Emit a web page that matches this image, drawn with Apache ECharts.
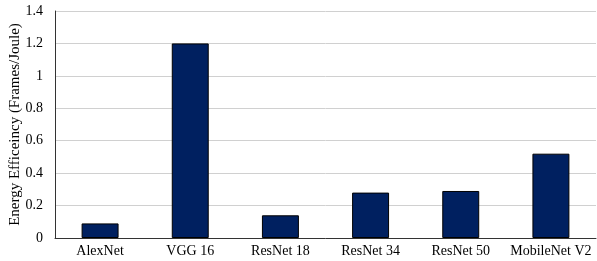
<!DOCTYPE html>
<html>
<head>
<meta charset="utf-8">
<script src="https://cdn.jsdelivr.net/npm/echarts@6/dist/echarts.min.js"></script>
<style>
  html, body { margin: 0; padding: 0; background: #fff; }
  #chart { width: 597px; height: 261px; }
</style>
</head>
<body>
<div id="chart"></div>
<script>
// 数据
const models = ["AlexNet", "VGG 16", "ResNet 18", "ResNet 34", "ResNet 50", "MobileNet V2"];
const efficiency = [0.09, 1.2, 0.14, 0.28, 0.29, 0.52];
const yTicks = [0, 0.2, 0.4, 0.6, 0.8, 1, 1.2, 1.4];

const myChart = echarts.init(document.getElementById("chart"));

const fontFamily = "'Liberation Serif', 'Times New Roman', serif";

const options = {
  animation: false,
  grid: { left: 55, right: 1, top: 11, bottom: 23, outerBoundsMode: "none", containLabel: false },
  xAxis: {
    type: "category",
    data: models,
    axisLine: { lineStyle: { color: "#333", width: 1 } },
    axisTick: { show: false },
    axisLabel: { color: "#000", fontFamily, fontSize: 14, margin: 6, interval: 0 },
  },
  yAxis: {
    type: "value",
    min: yTicks[0],
    max: yTicks[yTicks.length - 1],
    interval: 0.2,
    name: "Energy Efficeincy (Frames/Joule)",
    nameLocation: "middle",
    nameGap: 32,
    nameMoveOverlap: false,
    nameTextStyle: { color: "#000", fontFamily, fontSize: 15 },
    axisLine: { show: true, lineStyle: { color: "#333", width: 1 } },
    axisTick: { show: false },
    axisLabel: {
      color: "#000",
      fontFamily,
      fontSize: 14,
      margin: 12,
      formatter: (v) => String(Math.round(v * 10) / 10),
    },
    splitLine: { lineStyle: { color: "#d0d0d0", width: 1 } },
  },
  series: [
    {
      type: "bar",
      data: efficiency,
      barWidth: "41%",
      itemStyle: { color: "#002060", borderColor: "#000", borderWidth: 1 },
    },
  ],
};

myChart.setOption(options);
</script>
</body>
</html>
